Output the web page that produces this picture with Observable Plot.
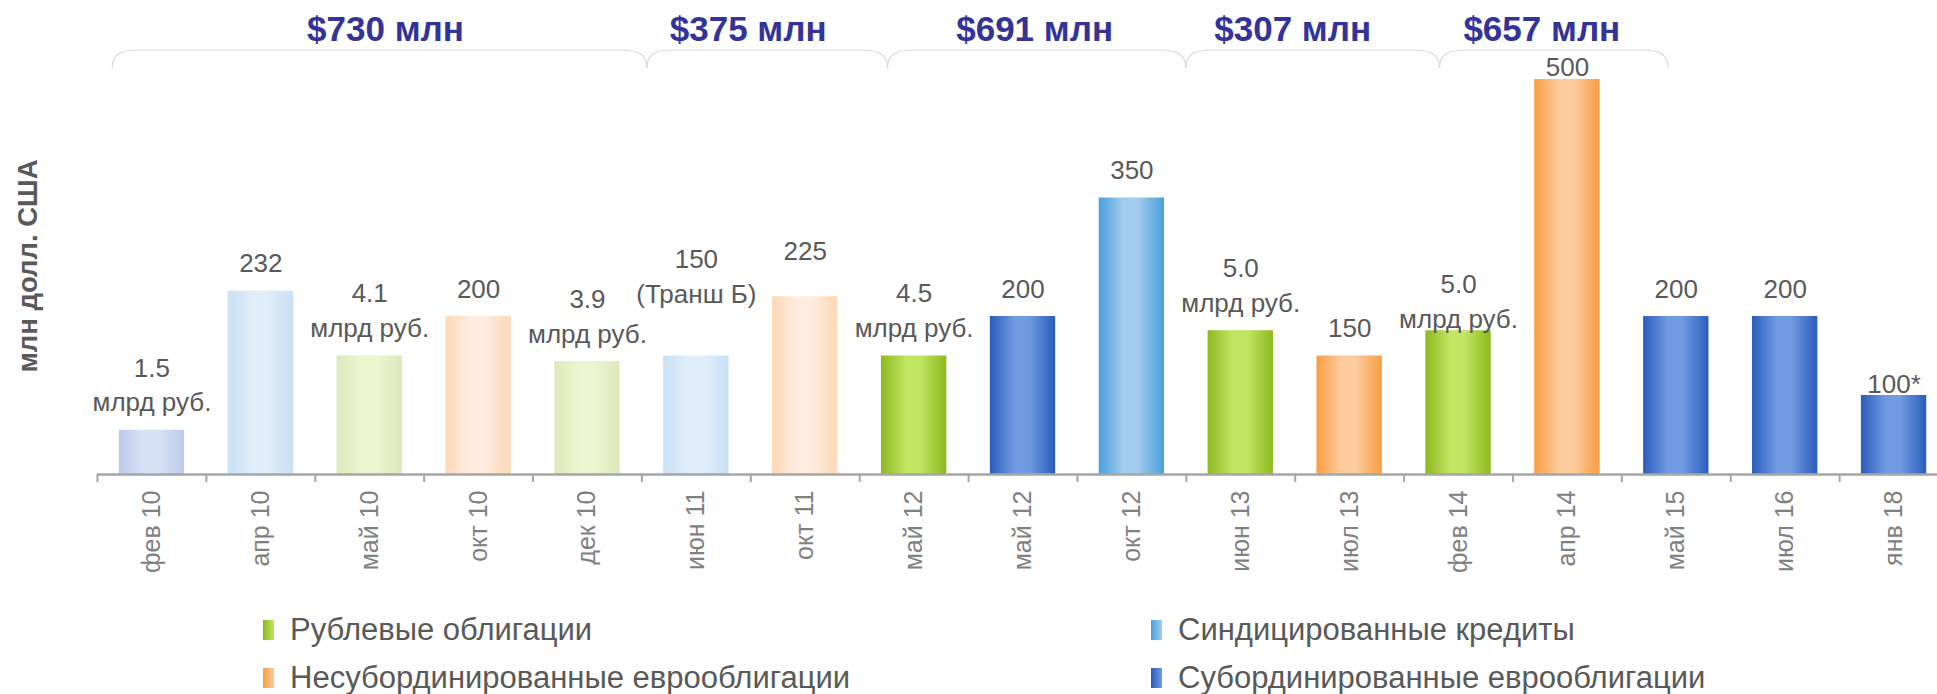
<!DOCTYPE html>
<html><head><meta charset="utf-8">
<script src="https://cdn.jsdelivr.net/npm/d3@7"></script>
<script src="https://cdn.jsdelivr.net/npm/@observablehq/plot@0.6"></script>
<style>
html,body{margin:0;padding:0;background:#fff;overflow:hidden;width:1937px;height:694px}
#wrap{position:relative;width:1937px;height:694px;overflow:hidden}
.leg{position:absolute;display:flex;align-items:center;font-family:"Liberation Sans",Arial,sans-serif;font-size:31px;line-height:28px;color:#595959;white-space:nowrap}
.leg .sw{width:11px;height:20px;margin-right:16px}
</style></head><body><div id="wrap"></div>
<script>
// ---- data ----
const categories = ["фев 10","апр 10","май 10","окт 10","дек 10","июн 11","окт 11","май 12","май 12 ","окт 12","июн 13","июл 13","фев 14","апр 14","май 15","июл 16","янв 18"];
const values = [56, 232, 150, 200, 143, 150, 225, 150, 200, 350, 182, 150, 182, 500, 200, 200, 100];
const instruments = ["sub","synd","rub","euro","rub","synd","euro","rub","sub","synd","rub","euro","rub","euro","sub","sub","sub"];
const labels = ["1.5\nмлрд руб.","232","4.1\nмлрд руб.","200","3.9\nмлрд руб.","150\n(Транш Б)","225","4.5\nмлрд руб.","200","350","5.0\nмлрд руб.","150","5.0\nмлрд руб.","500","200","200","100*"];
const groupTotals = ["$730 млн","$375 млн","$691 млн","$307 млн","$657 млн"];
const legendNames = ["Рублевые облигации","Синдицированные кредиты","Несубординированные еврооблигации","Субординированные еврооблигации"];
const legendKeys = ["rub","synd","euro","sub"];
const yTitle = "млн долл. США";

// ---- styling / layout ----
const colors = {
  rub:  {edge:"#8cb81e", mid:"#c2e562"},
  synd: {edge:"#4a9fdc", mid:"#a2cced"},
  euro: {edge:"#f99d42", mid:"#fccc9e"},
  sub:  {edge:"#2a5cbc", mid:"#709be1"},
  "rub-f":  {edge:"#dde9bb", mid:"#ecf6d0"},
  "synd-f": {edge:"#c9e0f4", mid:"#e1eef9"},
  "euro-f": {edge:"#fdd8b6", mid:"#feede0"},
  "sub-f":  {edge:"#bccbe9", mid:"#d8e2f6"}
};
const labelNudge = {5: 34, 6: 18, 12: -16, 13: -15, 16: -16}; // px, up positive
const braceBounds = [0.14, 5.05, 7.26, 10.0, 12.33, 14.43]; // in category-step units
const totalNudge = [6, -19, -2, -20, -12]; // px
const W = 1948, H = 596, mL = 97, mR = 0, mT = 79, y0px = 474, mB = H - y0px;
const pxPerUnit = (y0px - mT) / 500;
const step = (W - mL - mR) / categories.length;
const dataFont = '"Liberation Sans", Arial, sans-serif';

const data = categories.map((c, i) => ({
  c, v: values[i], t: instruments[i], label: labels[i], i,
  faded: +c.trim().split(" ")[1] <= 11
}));

const chart = Plot.plot({
  width: W, height: H,
  marginLeft: mL, marginRight: mR, marginTop: mT, marginBottom: mB,
  x: {domain: categories, paddingInner: 0.4, paddingOuter: 0.2, round: false, label: null},
  y: {domain: [0, 500], axis: null},
  color: {type: "identity"},
  style: {fontFamily: dataFont, background: "transparent", overflow: "visible", maxWidth: "none"},
  marks: [
    Plot.barY(data, {x: "c", y: "v", fill: d => `url(#g-${d.t}${d.faded ? "-f" : ""})`}),
    Plot.ruleY([0], {stroke: "#a6a6a6", strokeWidth: 2.5}),
    Plot.ruleX(categories, {x: d => d, y1: 0, y2: 0, insetBottom: -8, dx: -step / 2, stroke: "#a6a6a6", strokeWidth: 2}),
    Plot.axisX({tickSize: 0, tickRotate: -90, tickPadding: 16, fontSize: 25, fill: "#808080", tickFormat: d => d.trim(), label: null}),
    Plot.text(data, {x: "c", y: d => d.v + (labelNudge[d.i] || 0) / pxPerUnit, text: "label",
      lineAnchor: "bottom", dy: -19, fontSize: 26, lineHeight: 1.33, fill: "#595959"}),
    Plot.text([yTitle], {frameAnchor: "left", textAnchor: "middle", rotate: -90, dx: -69, dy: -11, fontSize: 27.5, fontWeight: "bold", fill: "#595959"})
  ]
});
chart.style.maxWidth = "none";

// gradients
const svg = d3.select(chart);
const defs = svg.insert("defs", ":first-child");
for (const [k, c] of Object.entries(colors)) {
  const g = defs.append("linearGradient").attr("id", "g-" + k).attr("x1", 0).attr("x2", 1).attr("y1", 0).attr("y2", 0);
  [[0, c.edge], [0.38, c.mid], [0.6, c.mid], [1, c.edge]].forEach(([o, col]) => g.append("stop").attr("offset", o).attr("stop-color", col));
}

// braces & group totals using the chart's x scale
const xs = chart.scale("x");
const bx = k => xs.range[0] + k * xs.step;
const ann = svg.append("g");
for (let j = 0; j < groupTotals.length; j++) {
  const a = bx(braceBounds[j]), b = bx(braceBounds[j + 1]);
  ann.append("path")
    .attr("d", `M${a},68 C${a},56 ${a + 6},50 ${a + 26},50 L${b - 26},50 C${b - 6},50 ${b},56 ${b},68`)
    .attr("fill", "none").attr("stroke", "#d9d9d9").attr("stroke-width", 1.2);
  ann.append("text").attr("x", (a + b) / 2 + totalNudge[j]).attr("y", 41).attr("text-anchor", "middle")
    .attr("font-family", dataFont).attr("font-weight", "bold").attr("font-size", 35).attr("fill", "#333399")
    .text(groupTotals[j]);
}

const wrap = document.getElementById("wrap");
wrap.appendChild(chart);
chart.style.position = "absolute"; chart.style.left = "0"; chart.style.top = "0";

// legend
const legPos = [[263, 616], [1151, 616], [263, 664], [1151, 664]];
legendNames.forEach((name, i) => {
  const el = document.createElement("div");
  el.className = "leg";
  el.style.left = legPos[i][0] + "px"; el.style.top = legPos[i][1] + "px";
  el.innerHTML = `<span class="sw" style="background:linear-gradient(90deg, ${colors[legendKeys[i]].edge}, ${colors[legendKeys[i]].mid})"></span><span>${name}</span>`;
  wrap.appendChild(el);
});
</script></body></html>
